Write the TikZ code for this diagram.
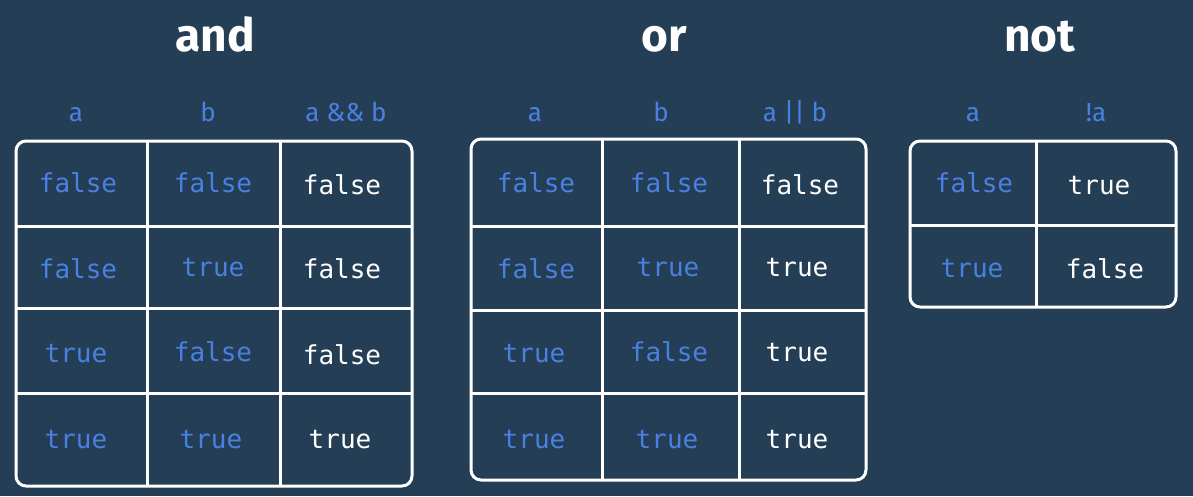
\documentclass[tikz,border=0pt]{standalone}
\usepackage{fontspec}
\setmainfont{Fira Sans}
\setmonofont{DejaVu Sans Mono}
\usepackage{tikz}
\definecolor{bgnavy}{RGB}{36,62,85}
\definecolor{valblue}{RGB}{74,128,226}
\tikzset{
  grid/.style={draw=white, line width=3pt, rounded corners=10pt},
  gridline/.style={draw=white, line width=3pt},
  title/.style={text=white, font=\fontsize{46}{46}\selectfont\bfseries, text height=1.6ex, text depth=0pt, yshift=-12pt},
  head/.style={text=valblue, font=\fontsize{26}{26}\selectfont, text height=1.6ex, text depth=0pt, yshift=-5pt},
  inval/.style={text=valblue, font=\ttfamily\fontsize{26}{26}\selectfont, text height=1.6ex, text depth=0pt, yshift=-5pt},
  outval/.style={text=white, font=\ttfamily\fontsize{26}{26}\selectfont, text height=1.6ex, text depth=0pt, yshift=-5pt}
}

\begin{document}
\begin{tikzpicture}[x=1pt, y=-1pt]
        % background
        \fill[bgnavy] (0, 0) rectangle (1193, 496);
        \useasboundingbox (0, 0) rectangle (1193, 496);
        % titles
        \node[title] (tand) at (215, 35) {and};
        \node[title] (tor) at (664, 35) {or};
        \node[title] (tnot) at (1040, 35) {not};
        % heads
        \node[head] (ha1) at (76, 112) {a};
        \node[head] (hb1) at (208, 112) {b};
        \node[head] (hab1) at (346, 112) {a \&\& b};
        \node[head] (ha2) at (535, 112) {a};
        \node[head] (hb2) at (661, 112) {b};
        \node[head] (hab2) at (795, 112) {a || b};
        \node[head] (ha3) at (973, 112) {a};
        \node[head] (hna3) at (1096, 112) {!a};
        % and table
        \draw[grid] (16, 141) rectangle (412, 486);
        \draw[gridline] (147, 141) -- (147, 486);
        \draw[gridline] (280, 141) -- (280, 486);
        \draw[gridline] (16, 226) -- (412, 226);
        \draw[gridline] (16, 308) -- (412, 308);
        \draw[gridline] (16, 393) -- (412, 393);
        \node[inval] (and11) at (78, 183) {false};
        \node[inval] (and12) at (213, 183) {false};
        \node[outval] (and13) at (342, 185) {false};
        \node[inval] (and21) at (78, 269) {false};
        \node[inval] (and22) at (213, 267) {true};
        \node[outval] (and23) at (342, 269) {false};
        \node[inval] (and31) at (76, 353) {true};
        \node[inval] (and32) at (213, 352) {false};
        \node[outval] (and33) at (342, 355) {false};
        \node[inval] (and41) at (76, 439) {true};
        \node[inval] (and42) at (211, 439) {true};
        \node[outval] (and43) at (340, 439) {true};
        % or table
        \draw[grid] (471, 139) rectangle (866, 480);
        \draw[gridline] (602, 139) -- (602, 480);
        \draw[gridline] (739, 139) -- (739, 480);
        \draw[gridline] (471, 226) -- (866, 226);
        \draw[gridline] (471, 310) -- (866, 310);
        \draw[gridline] (471, 393) -- (866, 393);
        \node[inval] (or11) at (536, 183) {false};
        \node[inval] (or12) at (669, 183) {false};
        \node[outval] (or13) at (800, 185) {false};
        \node[inval] (or21) at (536, 269) {false};
        \node[inval] (or22) at (668, 267) {true};
        \node[outval] (or23) at (797, 267) {true};
        \node[inval] (or31) at (534, 353) {true};
        \node[inval] (or32) at (669, 352) {false};
        \node[outval] (or33) at (797, 352) {true};
        \node[inval] (or41) at (534, 439) {true};
        \node[inval] (or42) at (667, 439) {true};
        \node[outval] (or43) at (797, 439) {true};
        % not table
        \draw[grid] (910, 141) rectangle (1176, 307);
        \draw[gridline] (1036, 141) -- (1036, 307);
        \draw[gridline] (910, 225) -- (1176, 225);
        \node[inval] (not11) at (974, 183) {false};
        \node[outval] (not12) at (1099, 185) {true};
        \node[inval] (not21) at (972, 268) {true};
        \node[outval] (not22) at (1105, 269) {false};
      \end{tikzpicture}
\end{document}
